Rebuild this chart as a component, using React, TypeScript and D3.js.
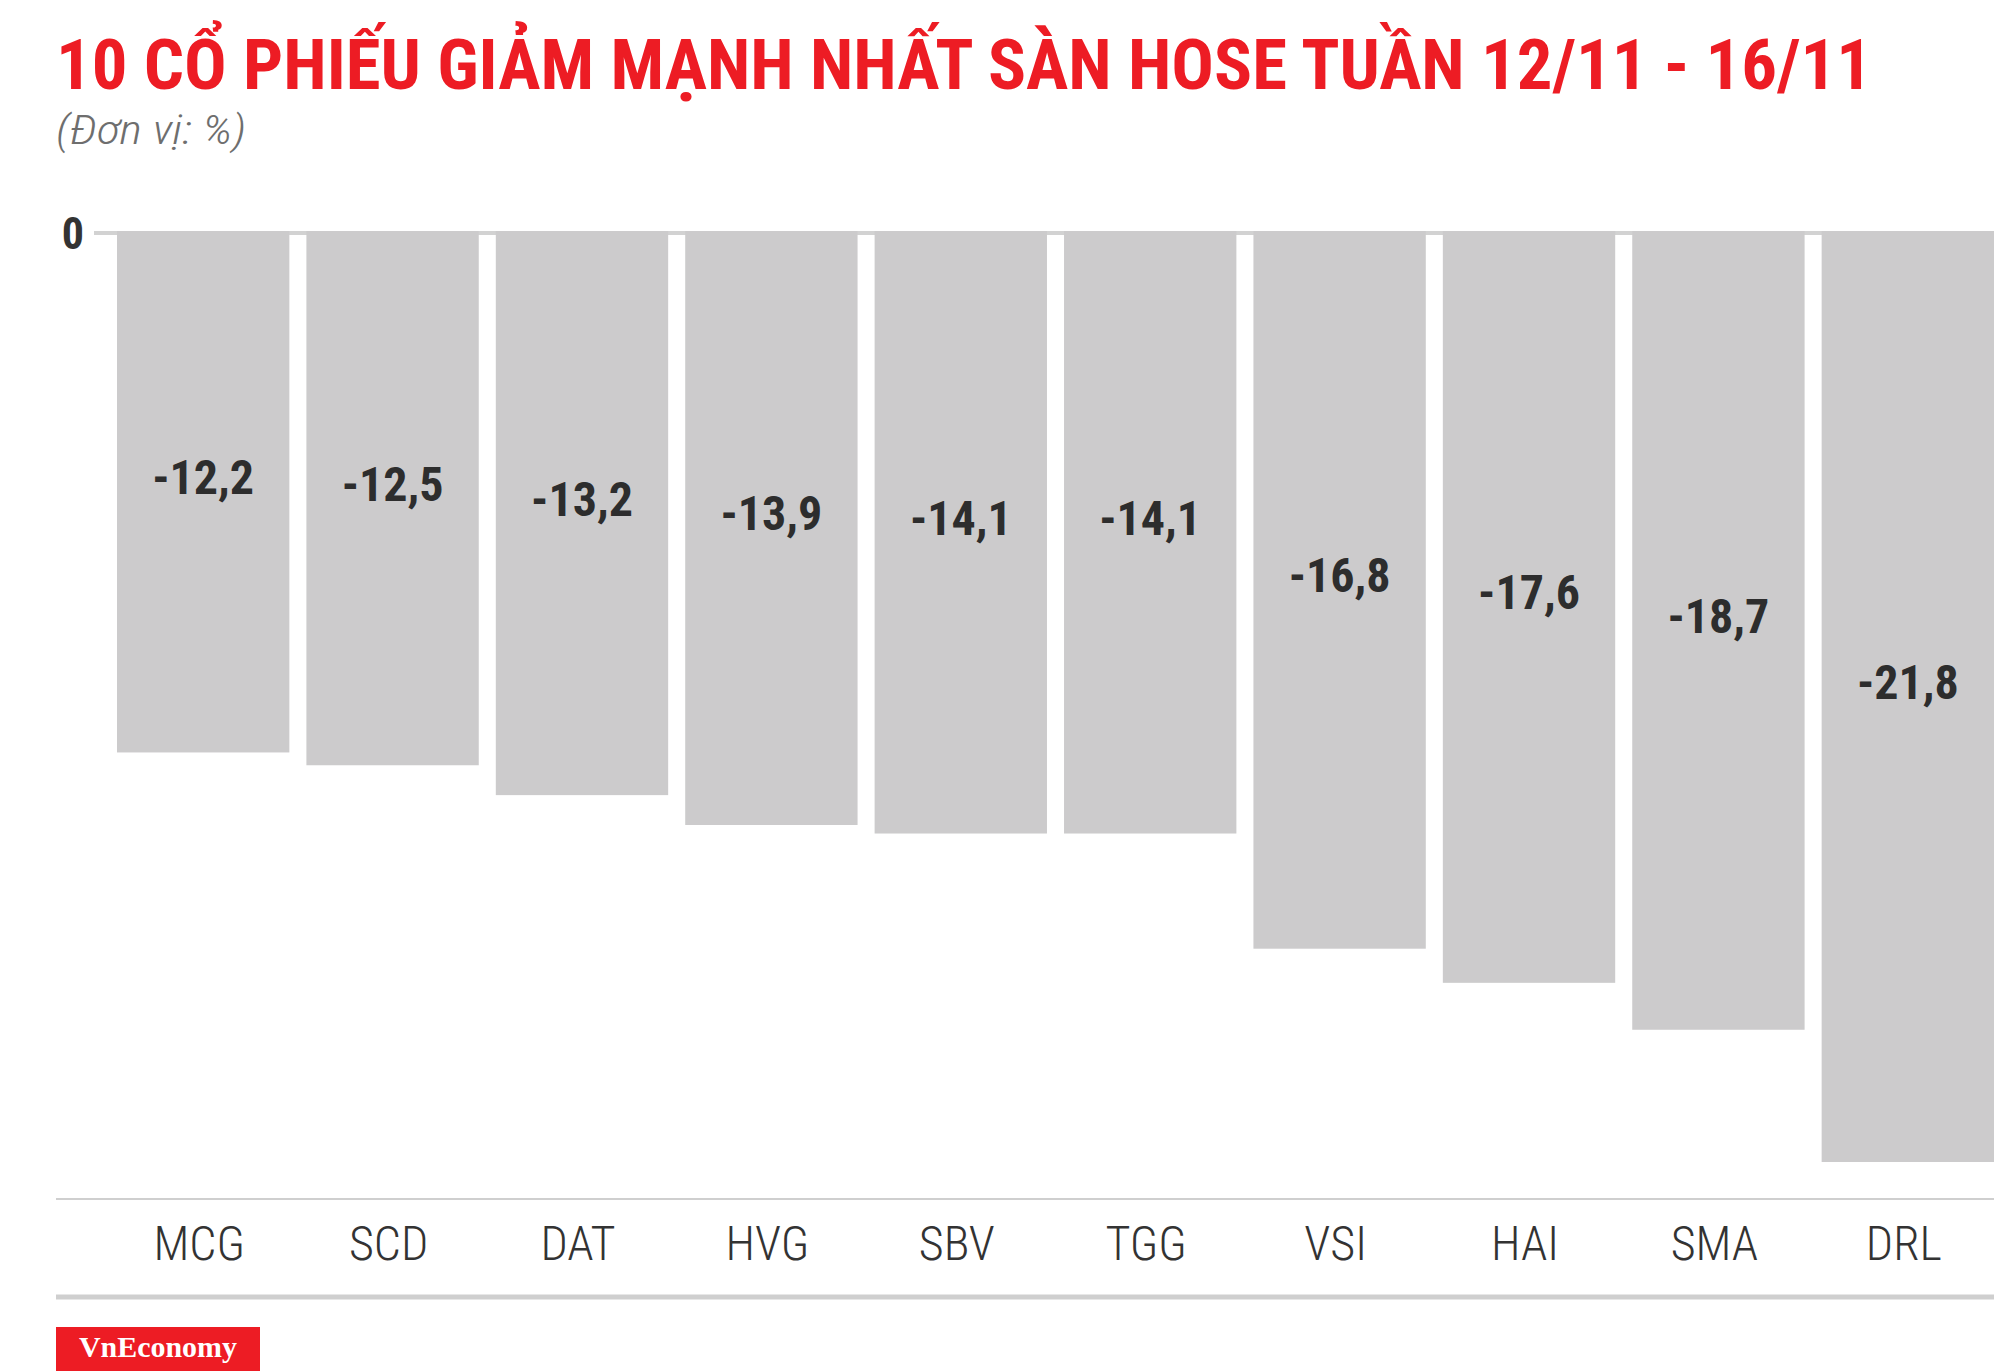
import React from "react";
import * as d3 from "d3";

const categories = ["MCG", "SCD", "DAT", "HVG", "SBV", "TGG", "VSI", "HAI", "SMA", "DRL"];
const values = [-12.2, -12.5, -13.2, -13.9, -14.1, -14.1, -16.8, -17.6, -18.7, -21.8];
const yTicks = [0];
const title = "10 CỔ PHIẾU GIẢM MẠNH NHẤT SÀN HOSE TUẦN 12/11 - 16/11";
const subtitle = "(Đơn vị: %)";
const brand = "VnEconomy";

const W = 2000;
const H = 1371;
const COND = "'Roboto Condensed', 'Liberation Sans Narrow', 'Arial Narrow', 'DejaVu Sans Condensed', Roboto, sans-serif";

export default function App() {
  const x = d3.scaleBand<string>().domain(categories).range([117, 1994]).paddingInner(0.09).paddingOuter(0);
  const y = d3.scaleLinear().domain([0, -21.8]).range([232, 1162]);
  const fmt = (v: number) => d3.format(".1f")(v).replace(".", ",").replace("−", "-");

  return (
    <div style={{ position: "absolute", left: 0, top: 0 }}>
      <svg width={W} height={H} style={{ display: "block", background: "#fff" }}>
        <text x={56} y={89} fill="#ED1C24" fontFamily={COND} fontStretch="condensed" fontWeight={700} fontSize={70}
          textLength={1816} lengthAdjust="spacingAndGlyphs">{title}</text>
        <text x={56} y={144} fill="#6e6e6e" fontFamily={COND} fontStretch="condensed" fontStyle="italic" fontWeight={300} fontSize={41}
          textLength={190} lengthAdjust="spacingAndGlyphs">{subtitle}</text>

        {yTicks.map((t) => (
          <g key={t}>
            <line x1={94} x2={1994} y1={y(t) + 1} y2={y(t) + 1} stroke="#d2d2d2" strokeWidth={4} />
            <text x={84} y={y(t) + 17} textAnchor="end" fill="#333" fontFamily={COND} fontStretch="condensed"
              fontWeight={700} fontSize={44}>{String(t)}</text>
          </g>
        ))}

        {categories.map((c, i) => {
          const v = values[i];
          const x0 = x(c)!;
          const y0 = y(0);
          const y1 = y(v);
          const cx = x0 + x.bandwidth() / 2;
          return (
            <g key={c}>
              <rect x={x0} y={y0 - 1} width={x.bandwidth()} height={y1 - y0 + 1} fill="#cccbcc" />
              <text x={cx} y={(y0 + y1) / 2 + 2} textAnchor="middle" fill="#2d2d2d" fontFamily={COND}
                fontStretch="condensed" fontWeight={700} fontSize={48}>{fmt(v)}</text>
              <text x={cx - 4} y={1260} textAnchor="middle" fill="#333" fontFamily={COND} fontStretch="condensed"
                fontWeight={300} fontSize={48}>{c}</text>
            </g>
          );
        })}

        <line x1={56} x2={1994} y1={1199} y2={1199} stroke="#cfcfcf" strokeWidth={2} />
        <line x1={56} x2={1994} y1={1297} y2={1297} stroke="#cfcfcf" strokeWidth={5} />

        <rect x={56} y={1327} width={204} height={44} fill="#ED1C24" />
        <text x={158} y={1357} textAnchor="middle" fill="#fff" fontFamily="'Liberation Serif', 'Times New Roman', serif"
          fontWeight={700} fontSize={30} textLength={158} lengthAdjust="spacingAndGlyphs">{brand}</text>
      </svg>
    </div>
  );
}
